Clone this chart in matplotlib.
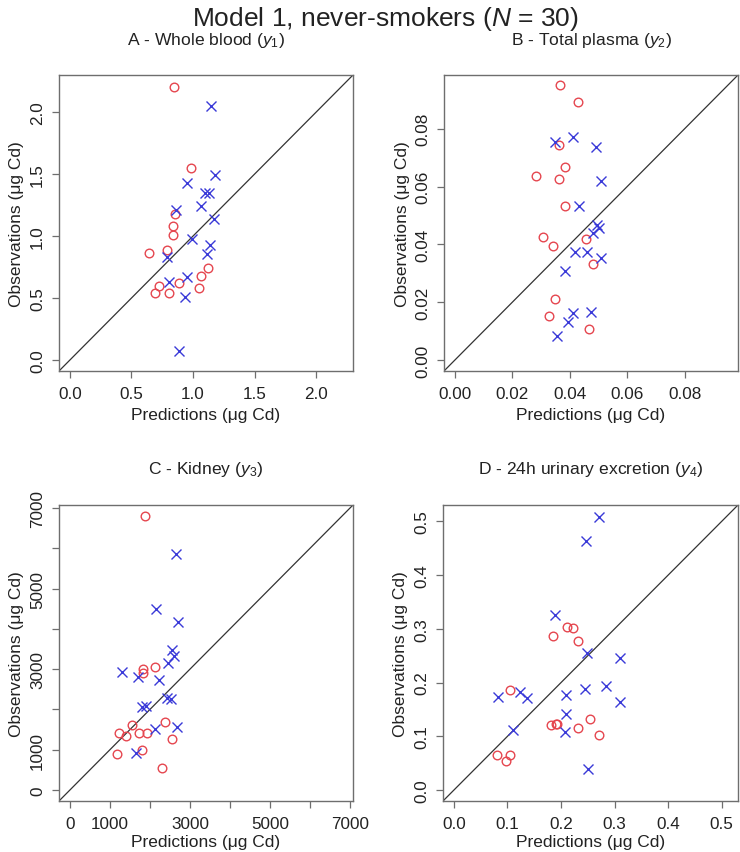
import matplotlib
matplotlib.use("Agg")
import matplotlib.pyplot as plt
import numpy as np

plt.rcParams['font.family'] = ['Liberation Sans', 'DejaVu Sans']
plt.rcParams['mathtext.fontset'] = 'custom'
plt.rcParams['mathtext.rm'] = 'Liberation Sans'
plt.rcParams['mathtext.it'] = 'Liberation Sans:italic'

# ---- Panel A: Whole blood ----
a_pred_red = [0.842, 0.983, 0.856, 0.837, 0.837, 0.639, 0.785, 1.119, 1.064, 0.888, 0.725, 1.051, 0.687, 0.801]
a_obs_red = [2.201, 1.550, 1.175, 1.081, 1.011, 0.862, 0.884, 0.743, 0.681, 0.622, 0.595, 0.581, 0.538, 0.538]
a_pred_blue = [1.146, 1.181, 0.948, 1.097, 1.132, 1.062, 0.861, 1.167, 0.988, 1.138, 1.110, 0.788, 0.951, 0.801, 0.937, 0.883]
a_obs_blue = [2.050, 1.496, 1.429, 1.343, 1.348, 1.243, 1.208, 1.137, 0.978, 0.924, 0.851, 0.830, 0.673, 0.627, 0.511, 0.069]

# ---- Panel B: Total plasma ----
b_pred_red = [0.0366, 0.0429, 0.0361, 0.0383, 0.0284, 0.0361, 0.0383, 0.0308, 0.0343, 0.0458, 0.0480, 0.0348, 0.0326, 0.0467]
b_obs_red = [0.0950, 0.0891, 0.0743, 0.0669, 0.0637, 0.0627, 0.0532, 0.0426, 0.0394, 0.0417, 0.0331, 0.0210, 0.0153, 0.0107]
b_pred_blue = [0.0348, 0.0410, 0.0490, 0.0508, 0.0431, 0.0494, 0.0501, 0.0482, 0.0420, 0.0460, 0.0510, 0.0384, 0.0474, 0.0410, 0.0393, 0.0354]
b_obs_blue = [0.0755, 0.0770, 0.0738, 0.0618, 0.0534, 0.0468, 0.0456, 0.0439, 0.0374, 0.0373, 0.0352, 0.0307, 0.0167, 0.0163, 0.0130, 0.0084]

# ---- Panel C: Kidney ----
c_pred_red = [1873, 2137, 1832, 1815, 2376, 1543, 1221, 1394, 1725, 1922, 2550, 1790, 1188, 2310]
c_obs_red = [6807, 3052, 3012, 2896, 1691, 1616, 1418, 1337, 1418, 1411, 1262, 990, 884, 552]
c_pred_blue = [2649, 2153, 2706, 2557, 2591, 2450, 1295, 1708, 2236, 2434, 2525, 1790, 1906, 2681, 2129, 1650]
c_obs_blue = [5866, 4488, 4175, 3465, 3333, 3144, 2921, 2814, 2731, 2277, 2270, 2054, 2096, 1552, 1518, 924]

# ---- Panel D: 24h urinary excretion ----
d_pred_red = [0.1045, 0.1853, 0.2114, 0.2214, 0.2319, 0.2532, 0.1804, 0.1897, 0.1928, 0.2319, 0.2705, 0.0796, 0.1045, 0.0964]
d_obs_red = [0.1858, 0.2870, 0.3037, 0.3007, 0.2776, 0.1317, 0.1211, 0.1224, 0.1237, 0.1155, 0.1032, 0.0647, 0.0647, 0.0535]
d_pred_blue = [0.270, 0.2457, 0.1890, 0.2487, 0.3110, 0.2848, 0.2438, 0.2084, 0.0821, 0.1225, 0.1356, 0.3110, 0.2084, 0.1101, 0.2065, 0.2506]
d_obs_blue = [0.5087, 0.4634, 0.3255, 0.2553, 0.2448, 0.1938, 0.1871, 0.1764, 0.1740, 0.1833, 0.1714, 0.1640, 0.1416, 0.1112, 0.1081, 0.0386]

titles = ["A - Whole blood ($\\mathit{y}_1$)", "B - Total plasma ($\\mathit{y}_2$)",
          "C - Kidney ($\\mathit{y}_3$)", "D - 24h urinary excretion ($\\mathit{y}_4$)"]
maxvals = [2.21, 0.0948, 6800, 0.51]
ticks = [[0.0, 0.5, 1.0, 1.5, 2.0],
         [0.00, 0.02, 0.04, 0.06, 0.08],
         [0, 1000, 2000, 3000, 4000, 5000, 6000, 7000],
         [0.0, 0.1, 0.2, 0.3, 0.4, 0.5]]
ticklabels = [["0.0", "0.5", "1.0", "1.5", "2.0"],
              ["0.00", "0.02", "0.04", "0.06", "0.08"],
              ["0", "1000", "", "3000", "", "5000", "", "7000"],
              ["0.0", "0.1", "0.2", "0.3", "0.4", "0.5"]]
data = [(a_pred_red, a_obs_red, a_pred_blue, a_obs_blue),
        (b_pred_red, b_obs_red, b_pred_blue, b_obs_blue),
        (c_pred_red, c_obs_red, c_pred_blue, c_obs_blue),
        (d_pred_red, d_obs_red, d_pred_blue, d_obs_blue)]

W, H = 740, 853
fig = plt.figure(figsize=(W / 100, H / 100), dpi=100)

# axes boxes in pixels: left, top, right, bottom
boxes = [(59, 76, 353, 372), (444, 76, 738, 372), (59, 506, 353, 802), (443, 506, 738, 802)]
xlab_off = [44, 44, 41, 41]
RED = '#e5464f'
BLUE = '#3a3ad8'
GRAY = '#6e6e6e'
TXT = '#222222'

for i, (l, t, r, b) in enumerate(boxes):
    ax = fig.add_axes([l / W, 1 - b / H, (r - l) / W, (b - t) / H])
    pr, orr, pb, ob = data[i]
    m = maxvals[i]
    lim = (-0.04 * m, 1.04 * m)
    ax.set_xlim(lim)
    ax.set_ylim(lim)
    ax.plot(lim, lim, color='#333333', lw=0.9, zorder=1)
    ax.plot(pr, orr, linestyle='none', marker='o', markersize=6.2, markerfacecolor='none',
            markeredgecolor=RED, markeredgewidth=1.0, zorder=3)
    ax.plot(pb, ob, linestyle='none', marker='x', markersize=6.5,
            markeredgecolor=BLUE, markeredgewidth=1.0, zorder=3)
    ax.set_xticks(ticks[i])
    ax.set_xticklabels(ticklabels[i])
    ax.set_yticks(ticks[i])
    ax.set_yticklabels(ticklabels[i])
    ax.tick_params(axis='both', direction='out', length=5, width=0.9, color=GRAY,
                   labelsize=12.3, labelcolor=TXT)
    ax.tick_params(axis='x', pad=5.5)
    ax.tick_params(axis='y', pad=5, labelrotation=90)
    for lab in ax.get_yticklabels():
        lab.set_va('center')
    for s in ax.spines.values():
        s.set_color(GRAY)
        s.set_linewidth(1.0)
    cx = (l + r) / 2
    fig.text(cx / W, 1 - (t - 36) / H, titles[i], ha='center', va='center', fontsize=12.6, color=TXT)
    fig.text(cx / W, 1 - (b + xlab_off[i]) / H, "Predictions (\u03bcg Cd)", ha='center', va='center',
             fontsize=12.5, color=TXT)
    fig.text((l - 42) / W, 1 - ((t + b) / 2) / H, "Observations (\u03bcg Cd)", ha='center', va='center',
             rotation=90, fontsize=12.5, color=TXT)

fig.text(385 / W, 1 - 19 / H, "Model 1, never-smokers ($\\mathit{N}$ = 30)", ha='center', va='center',
         fontsize=19, color=TXT)

fig.savefig("out.png", dpi=100)
